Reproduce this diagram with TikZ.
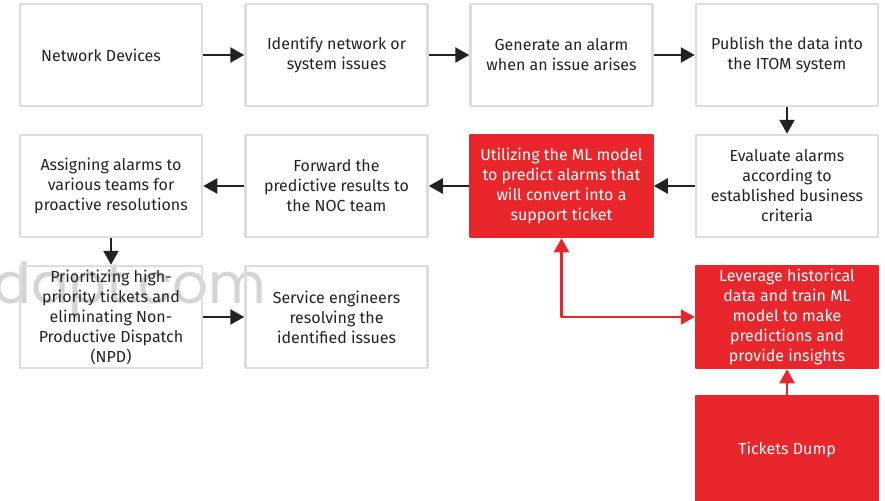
\documentclass[tikz,border=0pt]{standalone}
\usepackage{fontspec}
\setmainfont{Fira Sans}
\newfontfamily\markfont{Poppins}
\usepackage{tikz}
\usetikzlibrary{arrows.meta}
\definecolor{boxgray}{HTML}{DDDDDD}
\definecolor{alarmred}{HTML}{E8262B}
\definecolor{inkgray}{HTML}{222222}
\definecolor{markgray}{HTML}{D4D4D4}
\tikzset{
  flowbox/.style={draw=boxgray,line width=2.5pt,minimum width=182pt,minimum height=102pt,
    inner sep=0pt,align=center,text=inkgray,font=\fontsize{16}{20}\selectfont},
  redbox/.style={flowbox,draw=alarmred,fill=alarmred,text=white},
  flow/.style={->,line width=2.5pt,color=inkgray},
  redflow/.style={flow,color=alarmred}
}
\begin{document}
\begin{tikzpicture}[line join=round,>={Triangle[length=14pt,width=15pt]},x=1pt,y=-1pt]
		\useasboundingbox (0,0) rectangle (885,500);
		\clip (0,0) rectangle (885,500);
		\node[anchor=base east,text=markgray,font=\markfont\fontsize{56}{56}\selectfont] (mark) at (270,303) {dapt.com};
		\node[flowbox] (devices) at (111,55) {\hspace*{-20pt}Network Devices};
		\node[flowbox] (identify) at (336.5,55) {Identify network or\\system issues};
		\node[flowbox] (generate) at (561.5,55) {Generate an alarm\\when an issue arises};
		\node[flowbox] (publish) at (787,55) {Publish the data into\\the ITOM system};
		\node[flowbox] (evaluate) at (787,186) {Evaluate alarms\\according to\\established business\\criteria};
		\node[redbox] (predict) at (561.5,186) {Utilizing the ML model\\to predict alarms that\\will convert into a\\support ticket};
		\node[flowbox] (forward) at (336.5,186) {Forward the\\predictive results to\\the NOC team};
		\node[flowbox] (assign) at (111,186) {Assigning alarms to\\various teams for\\proactive resolutions};
		\node[flowbox] (prioritize) at (111,317) {Prioritizing high-\\priority tickets and\\eliminating Non-\\Productive Dispatch\\(NPD)};
		\node[flowbox] (engineers) at (336.5,317) {Service engineers\\resolving the\\identified issues};
		\node[redbox] (leverage) at (787,317) {Leverage historical\\data and train ML\\model to make\\predictions and\\provide insights};
		\node[redbox,minimum height=108pt] (dump) at (787,450) {Tickets Dump};
		\draw[flow] (devices) -- (identify);
		\draw[flow] (identify) -- (generate);
		\draw[flow] (generate) -- (publish);
		\draw[flow] (publish) -- (evaluate);
		\draw[flow] (evaluate) -- (predict);
		\draw[flow] (predict) -- (forward);
		\draw[flow] (forward) -- (assign);
		\draw[flow] (assign) -- (prioritize);
		\draw[flow] (prioritize) -- (engineers);
		\draw[redflow,<->] (predict) |- (leverage);
		\draw[redflow] (dump) -- (leverage);
\end{tikzpicture}
\end{document}
